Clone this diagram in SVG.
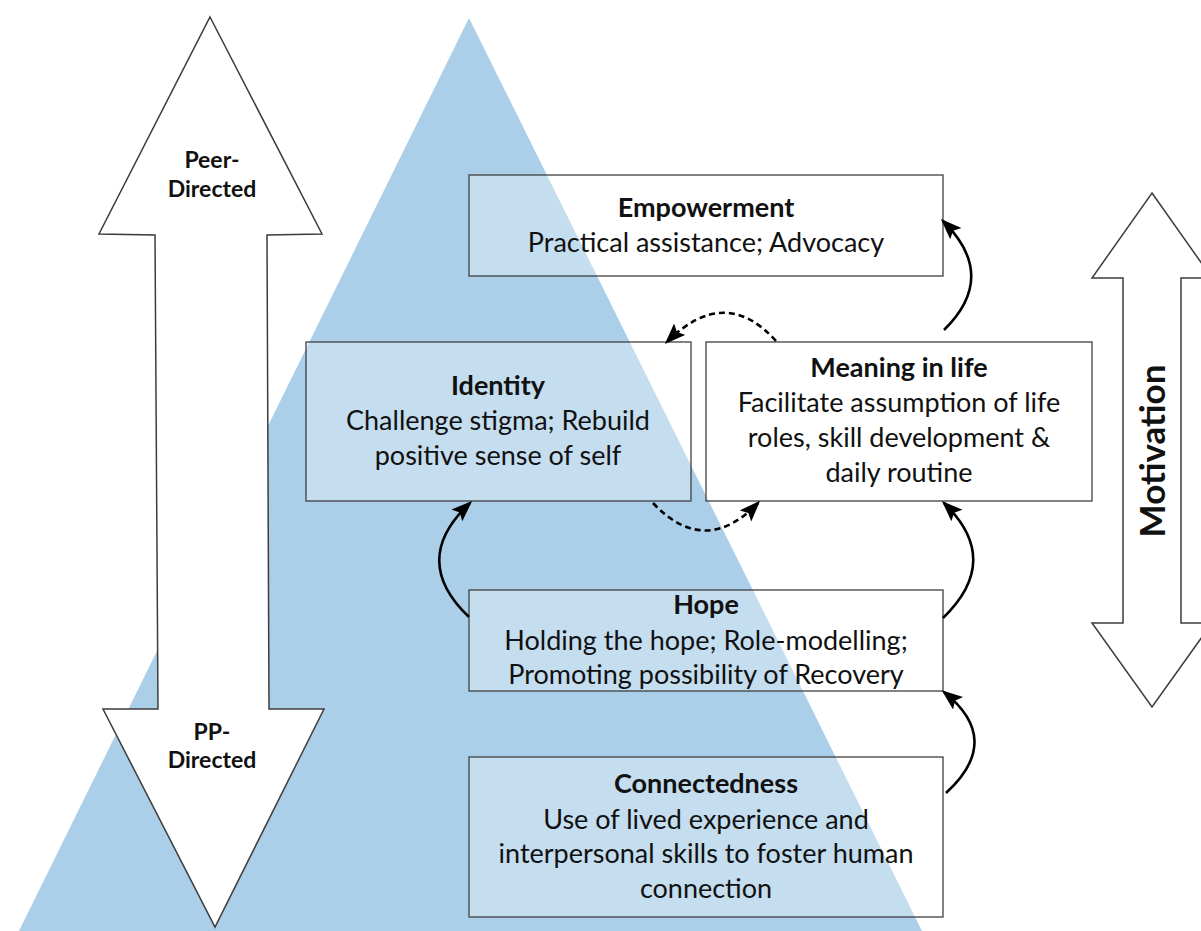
<svg xmlns="http://www.w3.org/2000/svg" width="1201" height="931" viewBox="0 0 1201 931">
  <style>
    .box { fill: #ffffff; fill-opacity: 0.3; stroke: #404040; stroke-width: 1.3; }
    .big-arrow { fill: #ffffff; stroke: #3c3c3c; stroke-width: 1.5; stroke-linejoin: miter; }
    .title { font-family: Lato, "Liberation Sans", sans-serif; font-weight: bold; font-size: 27px; fill: #111111; text-anchor: middle; }
    .body { font-family: Lato, "Liberation Sans", sans-serif; font-size: 27px; fill: #111111; text-anchor: middle; }
    .side { font-family: Lato, "Liberation Sans", sans-serif; font-weight: bold; font-size: 23px; fill: #111111; text-anchor: middle; }
    .motiv { font-family: Lato, "Liberation Sans", sans-serif; font-weight: bold; font-size: 35px; fill: #111111; text-anchor: middle; }
    .link { fill: none; stroke: #000000; stroke-width: 2.6; }
    .dashed { stroke-dasharray: 6 4; }
  </style>
  <defs>
    <marker id="head" markerUnits="userSpaceOnUse" markerWidth="24" markerHeight="18" refX="18" refY="8" orient="auto">
      <path d="M0,0 L21,8 L0,16 L4,8 z" fill="#000000"/>
    </marker>
  </defs>

  <rect width="1201" height="931" fill="#ffffff"/>

  <!-- background pyramid -->
  <polygon id="pyramid" points="469,18 924,935 17,935" fill="#abcfe9"/>

  <!-- Peer-directed / PP-directed double arrow -->
  <g id="direction-arrow">
    <polygon class="big-arrow" points="210,17 322,234 267,235 269,709 324,709 215,927 103,709 158,709 155,235 99,234"/>
    <text class="side" x="212" y="168">Peer-</text>
    <text class="side" x="212" y="197">Directed</text>
    <text class="side" x="212" y="740">PP-</text>
    <text class="side" x="212" y="768">Directed</text>
  </g>

  <!-- Motivation double arrow -->
  <g id="motivation-arrow">
    <polygon class="big-arrow" points="1152,193 1212,278 1181,278 1181,623 1212,623 1152,707 1092,623 1123,623 1123,278 1092,278"/>
    <text class="motiv" transform="translate(1165,451) rotate(-90)" x="0" y="0">Motivation</text>
  </g>

  <g id="empowerment">
    <rect class="box" x="469" y="175" width="474" height="101"/>
    <text class="title" x="706" y="217">Empowerment</text>
    <text class="body" x="706" y="252">Practical assistance; Advocacy</text>
  </g>

  <g id="identity">
    <rect class="box" x="306" y="342" width="385" height="159"/>
    <text class="title" x="498" y="395">Identity</text>
    <text class="body" x="498" y="430">Challenge stigma; Rebuild</text>
    <text class="body" x="498" y="465">positive sense of self</text>
  </g>

  <g id="meaning">
    <rect class="box" x="706" y="342" width="386" height="159"/>
    <text class="title" x="899" y="377">Meaning in life</text>
    <text class="body" x="899" y="412">Facilitate assumption of life</text>
    <text class="body" x="899" y="447">roles, skill development &amp;</text>
    <text class="body" x="899" y="482">daily routine</text>
  </g>

  <g id="hope">
    <rect class="box" x="469" y="590" width="474" height="101"/>
    <text class="title" x="706" y="614">Hope</text>
    <text class="body" x="706" y="650">Holding the hope; Role-modelling;</text>
    <text class="body" x="706" y="684">Promoting possibility of Recovery</text>
  </g>

  <g id="connectedness">
    <rect class="box" x="469" y="757" width="474" height="160"/>
    <text class="title" x="706" y="793">Connectedness</text>
    <text class="body" x="706" y="829">Use of lived experience and</text>
    <text class="body" x="706" y="863">interpersonal skills to foster human</text>
    <text class="body" x="706" y="898">connection</text>
  </g>

  <g id="connectors">
    <path class="link" d="M946,793 Q1004,740 944,692" marker-end="url(#head)"/>
    <path class="link" d="M943,618 Q1003,560 944,503" marker-end="url(#head)"/>
    <path class="link" d="M944,330 Q999,276 943,221" marker-end="url(#head)"/>
    <path class="link" d="M469,617 Q409,560 470,503" marker-end="url(#head)"/>
    <path class="link dashed" d="M776,341 Q725,284 667,342" marker-end="url(#head)"/>
    <path class="link dashed" d="M653,503 Q705,558 758,503" marker-end="url(#head)"/>
  </g>
</svg>
